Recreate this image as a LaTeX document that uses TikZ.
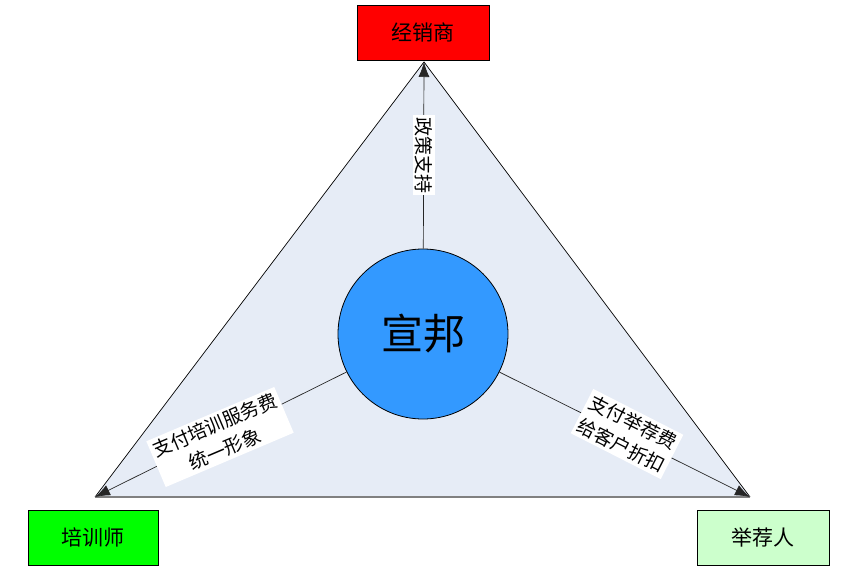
\documentclass[tikz,border=0pt]{standalone}
\usepackage{fontspec}
\newfontfamily\cjk{Noto Sans CJK SC}
\usetikzlibrary{arrows.meta}
\definecolor{tri}{RGB}{230,236,246}
\definecolor{boxred}{RGB}{255,0,0}
\definecolor{boxgreen}{RGB}{0,255,0}
\definecolor{boxlight}{RGB}{204,255,204}
\definecolor{hub}{RGB}{51,153,255}
\tikzset{
  party/.style={draw=black, line width=0.8pt, minimum width=132pt, minimum height=55pt, inner sep=0pt, font=\cjk\fontsize{21}{24}\selectfont},
  flow/.style={draw=black!85, line width=0.7pt, -{Latex[length=15pt,width=11pt]}},
  tag/.style={fill=white, inner sep=3pt, align=center, font=\cjk\fontsize{19}{26}\selectfont}
}
\begin{document}
\begin{tikzpicture}[x=1pt,y=-1pt]
\useasboundingbox (0,0) rectangle (841,573);
% triangle
\coordinate (A) at (424,62);
\coordinate (L) at (95,497);
\coordinate (R) at (750,497);
\fill[tri] (A) -- (L) -- (R) -- cycle;
\draw[black, line width=0.7pt] (L) -- (A) -- (R);
\draw[black!50, line width=1.6pt] (L) -- (R);
% boxes
\node[party, fill=boxred] (dist) at (423,32.5) {经销商};
\node[party, fill=boxgreen, minimum width=130pt] (train) at (93,537.5) {培训师};
\node[party, fill=boxlight] (refer) at (763,537.5) {举荐人};
% hub
\node[circle, draw=black, line width=0.8pt, fill=hub, minimum size=170pt, inner sep=0pt, font=\cjk\fontsize{42}{46}\selectfont] (c) at (423,334) {宣邦};
% connectors
\draw[flow] (c) -- (A);
\draw[flow] (c) -- (L);
\draw[flow] (c) -- (R);
% labels
\node[tag, rotate=-90, inner sep=2pt] (t1) at (424,155) {政策支持};
\node[tag, rotate=23] (t2) at (220,437) {支付培训服务费\\统一形象};
\node[tag, rotate=-27] (t3) at (627,434) {支付举荐费\\给客户折扣};
\end{tikzpicture}
\end{document}
